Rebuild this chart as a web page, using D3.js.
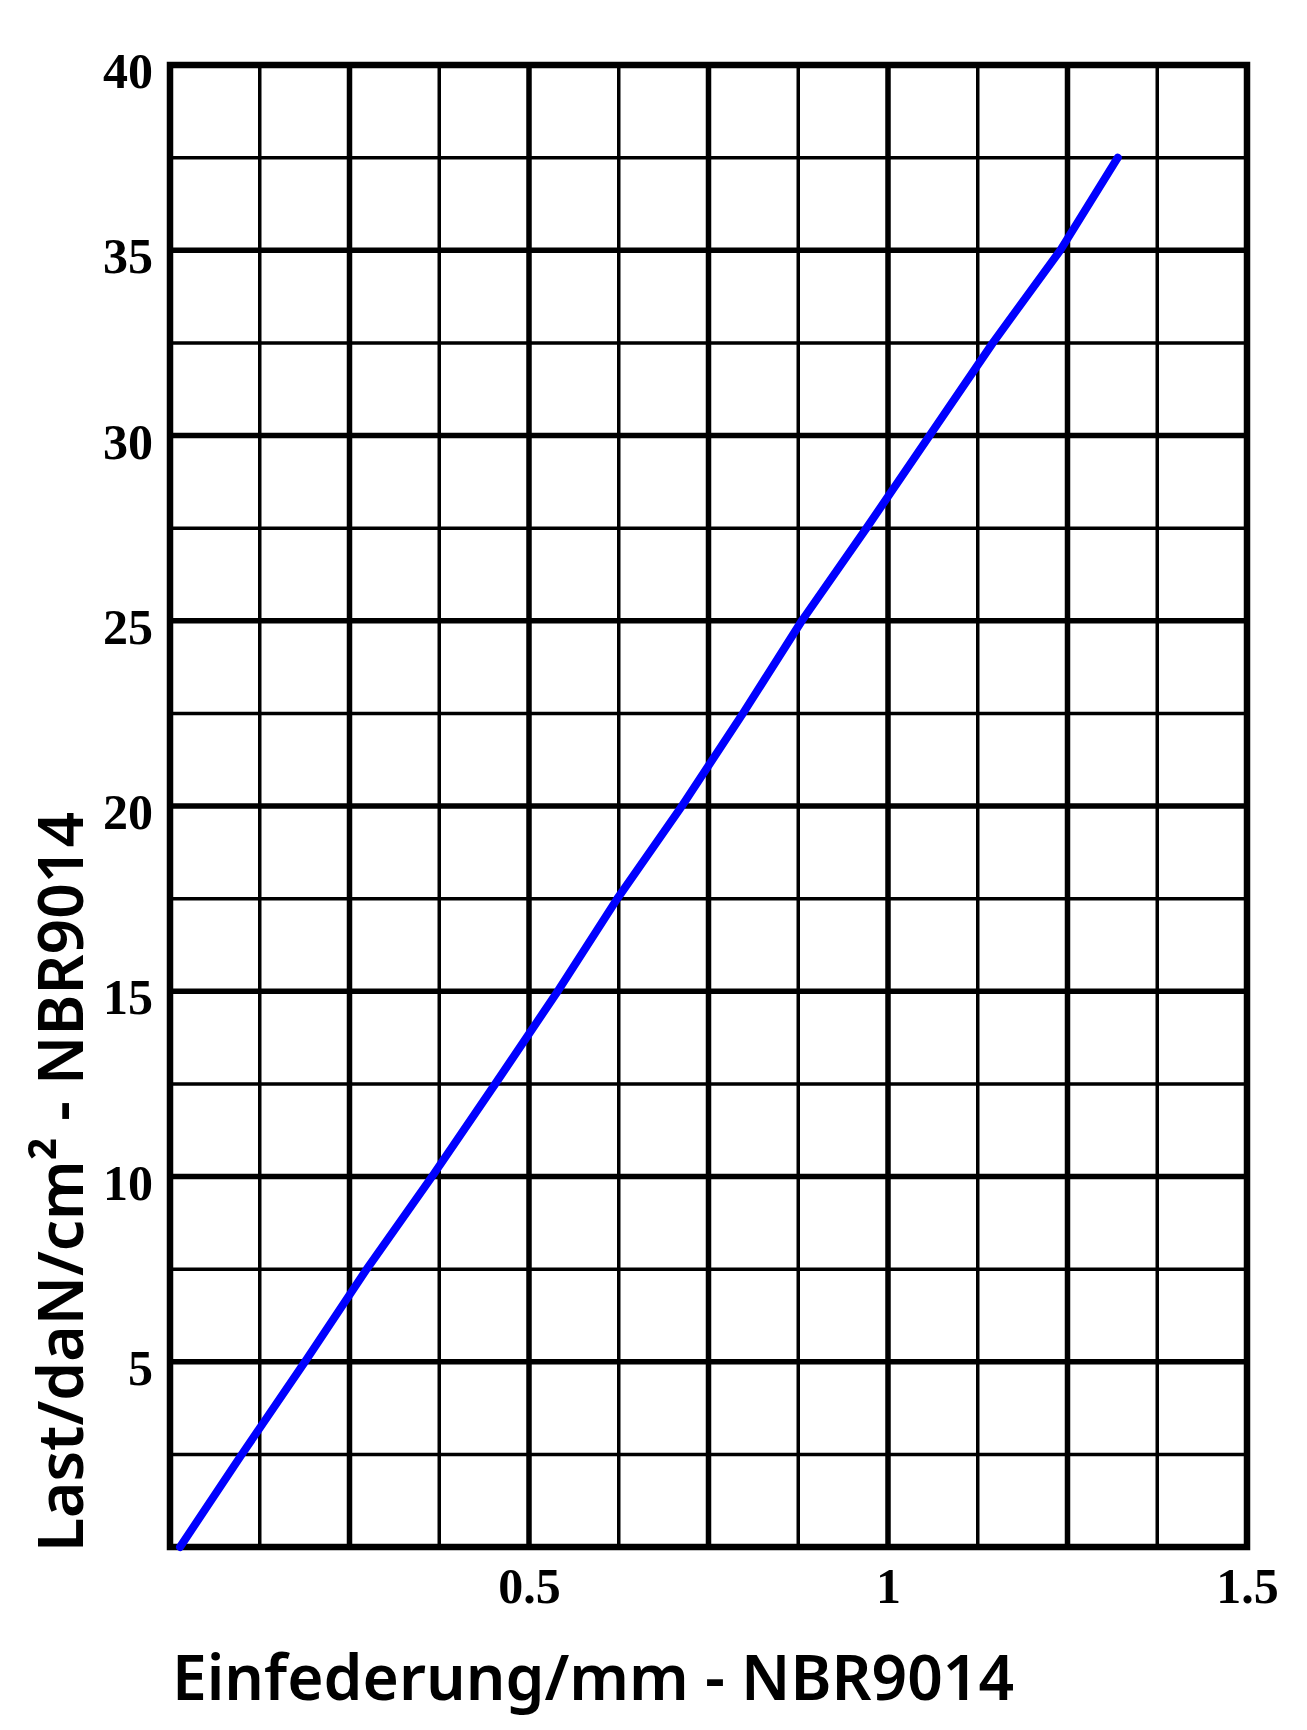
<!DOCTYPE html>
<html>
<head>
<meta charset="utf-8">
<script src="https://cdn.jsdelivr.net/npm/d3@7"></script>
<style>
  body { margin: 0; background: #fff; }
  .tick-label { font-family: "Liberation Serif", "Times New Roman", serif; font-weight: bold; font-size: 50px; fill: #000; }
  .axis-title { font-family: "Noto Sans", "Open Sans", sans-serif; font-weight: 600; font-size: 64px; fill: #000; }
</style>
</head>
<body>
<div id="viz"></div>
<script>

/* load / deflection curve, NBR9014 */

// curve (deflection in mm, load in daN/cm2)
const deflection = [0.014, 0.100, 0.188, 0.274, 0.365, 0.453, 0.540, 0.623, 0.713, 0.798, 0.880, 0.970, 1.058, 1.146, 1.240, 1.320];
const load       = [0,     2.5,   5,     7.5,   10,    12.5,  15,    17.5,  20,    22.5,  25,    27.5,  30,    32.5,  35,    37.5];

// axis tick labels
const xTicks = [0.5, 1, 1.5];
const yTicks = [5, 10, 15, 20, 25, 30, 35, 40];

const xTitle = "Einfederung/mm - NBR9014";
const yTitle = "Last/daN/cm\u00b2 - NBR9014";

const margin = { top: 65, right: 60, bottom: 183, left: 170 },
  width = 1247 - margin.left,
  height = 1547 - margin.top;

const svg = d3.select("#viz")
  .append("svg")
    .attr("width", 1307)
    .attr("height", 1730);

const g = svg.append("g")
  .attr("transform", `translate(${margin.left},${margin.top})`);

const x = d3.scaleLinear([0, 1.5], [0, width]);
const y = d3.scaleLinear([0, 40], [height, 0]);

// grid: thin lines every 0.125 / 2.5, thick every 0.25 / 5
const xGrid = d3.range(0.125, 1.5, 0.125);
const yGrid = d3.range(2.5, 40, 2.5);
const isMajorX = v => Math.abs(v / 0.25 - Math.round(v / 0.25)) < 1e-6;
const isMajorY = v => Math.abs(v / 5 - Math.round(v / 5)) < 1e-6;

g.append("g").selectAll("line")
  .data(xGrid)
  .join("line")
    .attr("x1", d => x(d)).attr("x2", d => x(d))
    .attr("y1", 0).attr("y2", height)
    .attr("stroke", "#000")
    .attr("stroke-width", d => isMajorX(d) ? 5.5 : 3.5);

g.append("g").selectAll("line")
  .data(yGrid)
  .join("line")
    .attr("x1", 0).attr("x2", width)
    .attr("y1", d => y(d)).attr("y2", d => y(d))
    .attr("stroke", "#000")
    .attr("stroke-width", d => isMajorY(d) ? 5.5 : 3.5);

// frame
g.append("rect")
  .attr("width", width)
  .attr("height", height)
  .attr("fill", "none")
  .attr("stroke", "#000")
  .attr("stroke-width", 6.5);

// tick labels via axes, no tick marks or domain
const xAxis = d3.axisBottom(x).tickValues(xTicks).tickSize(0).tickPadding(0).tickFormat(d3.format("~g"));
const yAxis = d3.axisLeft(y).tickValues(yTicks).tickSize(0).tickPadding(0).tickFormat(d3.format("~g"));

const gx = g.append("g")
  .attr("transform", `translate(0,${height})`)
  .call(xAxis);
gx.select(".domain").remove();
gx.selectAll("text")
  .attr("class", "tick-label")
  .attr("y", 56)
  .attr("dy", 0);

const gy = g.append("g")
  .call(yAxis);
gy.select(".domain").remove();
gy.selectAll("text")
  .attr("class", "tick-label")
  .attr("x", -17)
  .attr("dy", "0.45em");

// the curve
const line = d3.line()
  .x((d, i) => x(deflection[i]))
  .y(d => y(d));

g.append("path")
  .datum(load)
  .attr("fill", "none")
  .attr("stroke", "#0000ff")
  .attr("stroke-width", 8)
  .attr("stroke-linecap", "round")
  .attr("stroke-linejoin", "round")
  .attr("d", line);

// axis titles
svg.append("text")
  .attr("class", "axis-title")
  .attr("text-anchor", "middle")
  .attr("x", 593)
  .attr("y", 1700)
  .attr("textLength", 842)
  .attr("lengthAdjust", "spacingAndGlyphs")
  .text(xTitle);

svg.append("text")
  .attr("class", "axis-title")
  .attr("text-anchor", "middle")
  .attr("transform", "translate(83,1182) rotate(-90)")
  .attr("textLength", 740)
  .attr("lengthAdjust", "spacingAndGlyphs")
  .text(yTitle);

</script>
</body>
</html>
